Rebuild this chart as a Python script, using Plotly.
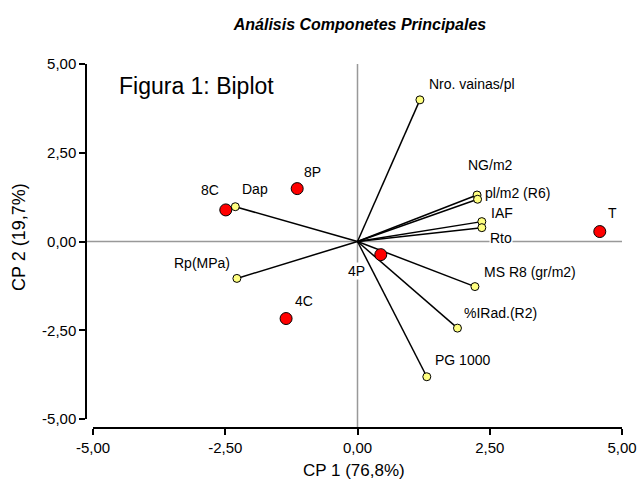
import plotly.graph_objects as go

# Variables (vectors, yellow points)
var_names = ["Nro. vainas/pl", "NG/m2", "pl/m2 (R6)", "IAF", "Rto", "MS R8 (gr/m2)",
             "%IRad.(R2)", "PG 1000", "Rp(MPa)", "Dap"]
var_x = [1.18, 2.26, 2.27, 2.35, 2.35, 2.22, 1.89, 1.31, -2.28, -2.31]
var_y = [3.99, 1.31, 1.19, 0.56, 0.39, -1.27, -2.44, -3.81, -1.04, 0.98]

# Treatments (red points)
obs_names = ["8C", "8P", "4C", "4P", "T"]
obs_x = [-2.49, -1.14, -1.35, 0.44, 4.58]
obs_y = [0.89, 1.49, -2.17, -0.37, 0.28]

tick_vals = [-5, -2.5, 0, 2.5, 5]
tick_text = ["-5,00", "-2,50", "0,00", "2,50", "5,00"]

FONT = "Liberation Sans, Arial, sans-serif"

# label placement (pixel offsets from point): (xshift, yshift, xanchor)
var_label_pos = {
    "Nro. vainas/pl": (8, 16, "left"),
    "NG/m2": (13, 30, "center"),
    "pl/m2 (R6)": (6, 6, "left"),
    "IAF": (8, 9, "left"),
    "Rto": (7, -10, "left"),
    "MS R8 (gr/m2)": (8, 15, "left"),
    "%IRad.(R2)": (6, 15, "left"),
    "PG 1000": (7, 17, "left"),
    "Rp(MPa)": (-6, 15, "right"),
    "Dap": (6, 18, "left"),
}
obs_label_pos = {
    "8C": (-16, 20, "center"),
    "8P": (15, 17, "center"),
    "4C": (18, 18, "center"),
    "4P": (-24, -16, "center"),
    "T": (13, 19, "center"),
}

fig = go.Figure()

# vectors from origin
lx, ly = [], []
for x, y in zip(var_x, var_y):
    lx += [0, x, None]
    ly += [0, y, None]
fig.add_trace(go.Scatter(x=lx, y=ly, mode="lines",
                         line=dict(color="black", width=1.5),
                         hoverinfo="skip", showlegend=False))

fig.add_trace(go.Scatter(x=var_x, y=var_y, mode="markers", text=var_names,
                         marker=dict(size=8, color="#ffff80",
                                     line=dict(color="black", width=1)),
                         showlegend=False))
fig.add_trace(go.Scatter(x=obs_x, y=obs_y, mode="markers", text=obs_names,
                         marker=dict(size=12, color="#ff0000",
                                     line=dict(color="black", width=1)),
                         showlegend=False))

annotations = []
for n, x, y in zip(var_names, var_x, var_y):
    dx, dy, xa = var_label_pos[n]
    bg = "white" if n == "Rto" else "rgba(0,0,0,0)"
    annotations.append(dict(x=x, y=y, xref="x", yref="y", text=n, showarrow=False,
                            xanchor=xa, yanchor="middle", xshift=dx, yshift=dy,
                            bgcolor=bg, borderpad=0,
                            font=dict(family=FONT, size=14, color="black")))
for n, x, y in zip(obs_names, obs_x, obs_y):
    dx, dy, xa = obs_label_pos[n]
    bg = "white" if n == "4P" else "rgba(0,0,0,0)"
    annotations.append(dict(x=x, y=y, xref="x", yref="y", text=n, showarrow=False,
                            xanchor=xa, yanchor="middle", xshift=dx, yshift=dy,
                            bgcolor=bg, borderpad=0,
                            font=dict(family=FONT, size=14, color="black")))

# Figure label
annotations.append(dict(x=0.0578, y=0.9396, xref="paper", yref="paper",
                        text="Figura 1: Biplot", showarrow=False,
                        xanchor="left", yanchor="middle",
                        font=dict(family=FONT, size=23, color="black")))
# Axis titles
annotations.append(dict(x=(354 - 86) / 536, y=(428 - 470) / 364, xref="paper", yref="paper",
                        text="CP 1 (76,8%)", showarrow=False,
                        xanchor="center", yanchor="middle",
                        font=dict(family=FONT, size=17, color="black")))
annotations.append(dict(x=(19 - 86) / 536, y=(428 - 237) / 364, xref="paper", yref="paper",
                        text="CP 2 (19,7%)", showarrow=False, textangle=-90,
                        xanchor="center", yanchor="middle",
                        font=dict(family=FONT, size=18, color="black")))

shapes = [
    dict(type="line", xref="paper", yref="y", x0=0, x1=1, y0=0, y1=0,
         line=dict(color="#999999", width=1.5), layer="below"),
    dict(type="line", xref="x", yref="paper", x0=0, x1=0, y0=0, y1=1,
         line=dict(color="#999999", width=1.5), layer="below"),
]

axis_common = dict(range=[-5, 5], tickvals=tick_vals, ticktext=tick_text,
                   showgrid=False, zeroline=False, showline=True,
                   linecolor="black", linewidth=1.5, ticks="outside",
                   ticklen=6, tickwidth=1.5, tickcolor="black",
                   tickfont=dict(family=FONT, size=15, color="black"),
                   anchor="free", position=0, fixedrange=True, automargin=False)

fig.update_layout(
    width=639, height=483, autosize=False,
    margin=dict(l=86, r=17, t=64, b=55, autoexpand=False),
    paper_bgcolor="white", plot_bgcolor="white",
    xaxis=dict(domain=[7 / 536, 1], **axis_common),
    yaxis=dict(domain=[9 / 364, 1], **axis_common),
    title=dict(text="<b><i>Análisis Componetes Principales</i></b>",
               x=360 / 639, xanchor="center", y=1 - 24 / 483, yanchor="middle",
               font=dict(family=FONT, size=16, color="black")),
    annotations=annotations,
    shapes=shapes,
    showlegend=False,
)

fig.write_html("out.html")
